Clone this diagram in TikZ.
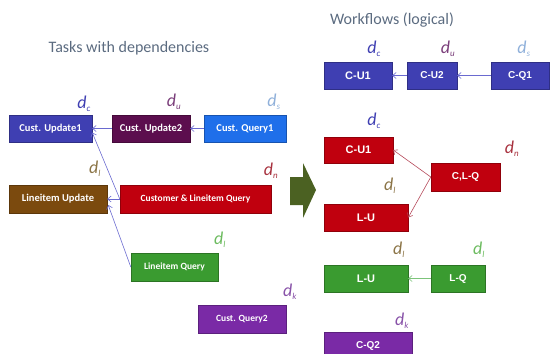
\documentclass[tikz,border=0pt]{standalone}
\usepackage{fontspec}
\setmainfont{Carlito}
\newfontfamily\lsans{Liberation Sans}
\usetikzlibrary{arrows.meta}
\definecolor{cBlue}{HTML}{3F3FB2}
\definecolor{cPlum}{HTML}{5C0E4E}
\definecolor{cSky}{HTML}{1F6FEA}
\definecolor{cBrown}{HTML}{7B4A0E}
\definecolor{cRed}{HTML}{C0000E}
\definecolor{cGreen}{HTML}{3A9B30}
\definecolor{cPurple}{HTML}{7A2AA6}
\definecolor{cOlive}{HTML}{4B6122}
\definecolor{cTitle}{HTML}{5B6B80}
\definecolor{lBlue}{HTML}{3F3FB2}
\definecolor{lPlum}{HTML}{7B3F7B}
\definecolor{lSky}{HTML}{8FB0DA}
\definecolor{lBrown}{HTML}{8B7446}
\definecolor{lRed}{HTML}{A8323F}
\definecolor{lGreen}{HTML}{6CBB5F}
\definecolor{lPurple}{HTML}{8852A8}
\definecolor{aBlue}{HTML}{6A6AD0}
\definecolor{aRed}{HTML}{B5495A}
\definecolor{aGreen}{HTML}{7CC47A}
\tikzset{
  x=1pt, y=-1pt,
  taskbox/.style={rectangle, inner sep=0pt, text=white, draw=#1!75!black, line width=0.4pt, fill=#1,
    font=\bfseries\fontsize{10.5}{12}\selectfont},
  wfbox/.style={rectangle, inner sep=0pt, text=white, draw=#1!75!black, line width=0.4pt, fill=#1,
    font=\lsans\bfseries\fontsize{10}{12}\selectfont},
  dlab/.style={text=#1, font=\itshape\fontsize{18}{18}\selectfont, inner sep=0pt},
  conn/.style={draw=#1, line width=0.6pt, -{Straight Barb[length=3.5pt,width=6pt]}},
  ttl/.style={text=cTitle, font=\fontsize{16}{18}\selectfont, inner sep=0pt},
}
\newcommand{\dsub}[1]{d\textsubscript{\fontsize{9}{9}\selectfont #1}}
\begin{document}
\begin{tikzpicture}
\useasboundingbox (0,0) rectangle (550,354);
\clip (0,0) rectangle (550,354);
% titles
\node[ttl] (t1) at (129,48) {Tasks with dependencies};
\node[ttl] (t2) at (392,20) {Workflows (logical)};
% left tasks
\node[taskbox=cBlue, minimum width=83pt, minimum height=27pt] (cu1) at (50.5,128.5) {Cust. Update1};
\node[taskbox=cPlum, minimum width=78pt, minimum height=27pt] (cu2) at (151,128.5) {Cust. Update2};
\node[taskbox=cSky, minimum width=82pt, minimum height=27pt] (cq1) at (245,128.5) {Cust. Query1};
\node[taskbox=cBrown, minimum width=98pt, minimum height=28pt] (lu) at (58,199) {Lineitem Update};
\node[taskbox=cRed, minimum width=151pt, minimum height=28pt, font=\bfseries\fontsize{9.5}{11}\selectfont] (clq) at (195.5,199) {Customer \& Lineitem Query};
\node[taskbox=cGreen, minimum width=87pt, minimum height=28pt, font=\bfseries\fontsize{9.5}{11}\selectfont] (lq) at (174.5,267) {Lineitem Query};
\node[taskbox=cPurple, minimum width=88pt, minimum height=28pt, font=\bfseries\fontsize{9.5}{11}\selectfont] (cq2) at (242,319) {Cust. Query2};
% left labels
\node[dlab=lBlue] (ldc) at (84,104) {\dsub{c}};
\node[dlab=lPlum] (ldu) at (174,102) {\dsub{u}};
\node[dlab=lSky] (lds) at (274,102) {\dsub{s}};
\node[dlab=lBrown] (ldl) at (95,169) {\dsub{l}};
\node[dlab=lRed] (ldn) at (271,171) {\dsub{n}};
\node[dlab=lGreen] (ldl2) at (220,240) {\dsub{l}};
\node[dlab=lPurple] (ldk) at (290,292) {\dsub{k}};
% left connectors
\draw[conn=aBlue] (cu2.west) -- (cu1.east);
\draw[conn=aBlue] (cq1.west) -- (cu2.east);
\draw[conn=aBlue] (clq.west) -- (lu.east);
\draw[conn=aBlue] (clq.west) -- ([yshift=-4pt]cu1.east);
\draw[conn=aBlue] (lq.west) -- ([yshift=-6pt,xshift=1pt]lu.east);
% big arrow
\fill[cOlive] (290,177) -- (303,177) -- (303,163) -- (316,190) -- (303,218) -- (303,205) -- (290,205) -- cycle;
% right workflows
\node[wfbox=cBlue, minimum width=68pt, minimum height=27pt, font=\lsans\bfseries\fontsize{11}{12}\selectfont] (rcu1) at (358,75.5) {C-U1};
\node[wfbox=cBlue, minimum width=50pt, minimum height=27pt] (rcu2) at (432,75.5) {C-U2};
\node[wfbox=cBlue, minimum width=58pt, minimum height=27pt] (rcq1) at (520,75.5) {C-Q1};
\node[wfbox=cRed, minimum width=69pt, minimum height=26pt, font=\lsans\bfseries\fontsize{11}{12}\selectfont] (rcu1b) at (358.5,150) {C-U1};
\node[wfbox=cRed, minimum width=69pt, minimum height=28pt] (rclq) at (465.5,177) {C,L-Q};
\node[wfbox=cRed, minimum width=84pt, minimum height=27pt, font=\lsans\bfseries\fontsize{11}{12}\selectfont] (rlu) at (366,217.5) {L-U};
\node[wfbox=cGreen, minimum width=84pt, minimum height=27pt, font=\lsans\bfseries\fontsize{11}{12}\selectfont] (glu) at (366,278.5) {L-U};
\node[wfbox=cGreen, minimum width=54pt, minimum height=27pt] (glq) at (458,278.5) {L-Q};
\node[wfbox=cPurple, minimum width=88pt, minimum height=28pt] (pcq2) at (368,346) {C-Q2};
% right labels
\node[dlab=lBlue] (rdc) at (374,49) {\dsub{c}};
\node[dlab=lPlum] (rdu) at (448,49) {\dsub{u}};
\node[dlab=lSky] (rds) at (524,49) {\dsub{s}};
\node[dlab=lBlue] (rdc2) at (374,121) {\dsub{c}};
\node[dlab=lRed] (rdn) at (512,149) {\dsub{n}};
\node[dlab=lBrown] (rdl) at (390,186) {\dsub{l}};
\node[dlab=lBrown] (rdl2) at (399,250) {\dsub{l}};
\node[dlab=lGreen] (rdl3) at (479,250) {\dsub{l}};
\node[dlab=lPurple] (rdk) at (402,321) {\dsub{k}};
% right connectors
\draw[conn=aBlue] (rcu2.west) -- (rcu1.east);
\draw[conn=aBlue] (rcq1.west) -- (rcu2.east);
\draw[conn=aRed] (rclq.west) -- (rcu1b.east);
\draw[conn=aRed] (rclq.west) -- (rlu.east);
\draw[conn=aGreen] (glq.west) -- (glu.east);
\end{tikzpicture}
\end{document}
